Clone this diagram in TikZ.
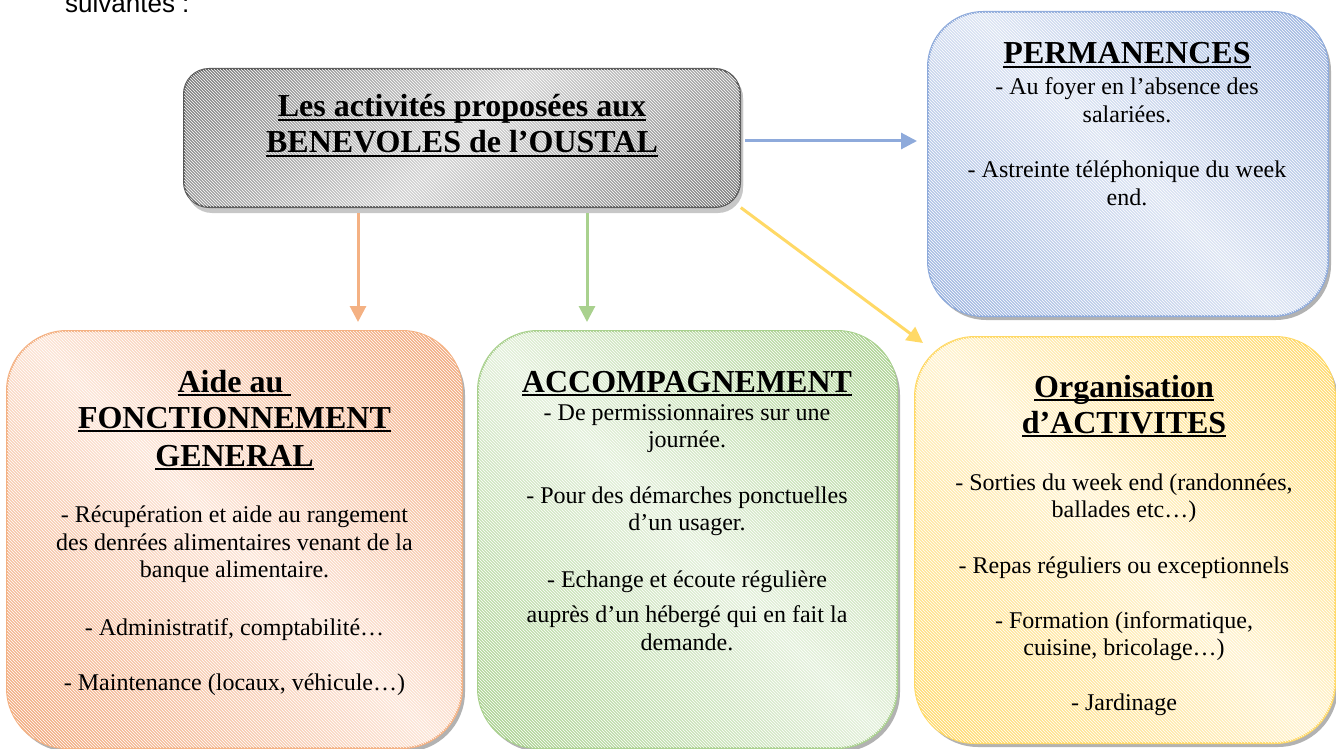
\documentclass[tikz,border=0pt]{standalone}
\usepackage{fontspec}
\setmainfont{Liberation Serif}
\newfontfamily\sansf{Liberation Sans}
\usetikzlibrary{arrows.meta,shadows,patterns}

\newsavebox\ulbox
\newcommand\ulx[1]{\sbox\ulbox{#1}\rlap{\rule[-3.6pt]{\wd\ulbox}{1.6pt}}\usebox\ulbox}

\definecolor{grayD}{HTML}{6A6A6A}
\definecolor{grayL}{HTML}{D2D2D2}
\definecolor{grayB}{HTML}{595959}
\definecolor{blueD}{HTML}{8EAADB}
\definecolor{blueL}{HTML}{DCE4F3}
\definecolor{orD}{HTML}{F2A97C}
\definecolor{orL}{HTML}{FCE5D7}
\definecolor{orB}{HTML}{F4B183}
\definecolor{grD}{HTML}{A9D18E}
\definecolor{grL}{HTML}{E3F0DA}
\definecolor{yeD}{HTML}{FFD966}
\definecolor{yeL}{HTML}{FFF3CF}

\begin{document}
\begin{tikzpicture}[x=1pt,y=-1pt,
  card/.style={rectangle, draw, line width=2pt, inner sep=0pt, outer sep=0pt, fill=white,
    drop shadow={shadow xshift=3pt, shadow yshift=-4pt, opacity=0.3, fill=black}},
  boxshade/.style n args={3}{path picture={
    \shade[left color=#1, right color=#1, middle color=#2, shading angle=#3]
      ([shift={(-300pt,-300pt)}]path picture bounding box.center) rectangle
      ([shift={(300pt,300pt)}]path picture bounding box.center);}},
  hatch/.style={postaction={pattern=north west lines, pattern color=white, fill opacity=0.16}},
  ttl/.style={font=\fontsize{32}{36}\selectfont\bfseries, anchor=base, inner sep=0pt},
  bdy/.style={font=\fontsize{24}{28}\selectfont, anchor=base, inner sep=0pt},
  conn/.style={line width=3pt, -{Triangle[length=16pt,width=16pt]}}
]
\useasboundingbox (0,0) rectangle (1336,749);

% top-left cropped text
\node[font=\sansf\fontsize{26}{30}\selectfont, anchor=base west, inner sep=0pt] (s0) at (65,13) {suivantes :};

% boxes
\node[card, rounded corners=25pt, minimum width=556pt, minimum height=138pt,
  draw=grayB, boxshade={grayD}{grayL}{45},
  drop shadow={shadow xshift=3pt, shadow yshift=-6pt, opacity=1, fill=black!22}, hatch]
  (gray) at (462,138) {};
\node[card, rounded corners=55pt, minimum width=400pt, minimum height=304pt,
  draw=blueD, boxshade={blueD}{blueL}{-45}, hatch]
  (blue) at (1128,164) {};
\node[card, rounded corners=60pt, minimum width=455pt, minimum height=417pt,
  draw=orB, boxshade={orD}{orL}{-45}, hatch]
  (orange) at (234.5,539.5) {};
\node[card, rounded corners=60pt, minimum width=419pt, minimum height=417pt,
  draw=grD, boxshade={grD}{grL}{-45}, hatch]
  (green) at (687.5,539.5) {};
\node[card, rounded corners=60pt, minimum width=420pt, minimum height=406pt,
  draw=yeD, boxshade={yeD}{yeL}{-45}, hatch]
  (yellow) at (1125,540) {};

% connectors
\coordinate (ox) at (358,0);
\coordinate (gx) at (587,0);
\coordinate (by) at (0,141);
\coordinate (ytip) at (923,343);
\draw[conn, draw=orB, fill=orB, shorten <=6pt, shorten >=9pt] (gray.south -| ox) -- (orange.north -| ox);
\draw[conn, draw=grD, fill=grD, shorten <=6pt, shorten >=9pt] (gray.south -| gx) -- (green.north -| gx);
\draw[conn, draw=blueD, fill=blueD, shorten <=5pt, shorten >=11pt] (gray.east |- by) -- (blue.west |- by);
\draw[conn, draw=yeD, fill=yeD, shorten <=1pt] (gray.south east) -- (ytip);

% gray box text
\node[ttl] (g1) at (462,117) {\ulx{Les activités proposées aux}};
\node[ttl] (g2) at (462,153) {\ulx{BENEVOLES de l’OUSTAL}};

% blue box text
\node[ttl] (p1) at (1127,64) {\ulx{PERMANENCES}};
\node[bdy] (p2) at (1127,95) {- Au foyer en l’absence des};
\node[bdy] (p3) at (1127,123) {salariées.};
\node[bdy] (p4) at (1127,177) {- Astreinte téléphonique du week};
\node[bdy] (p5) at (1127,205) {end.};

% orange box text
\node[ttl] (a1) at (234.5,392) {\ulx{Aide au\ }};
\node[ttl] (a2) at (234.5,428) {\ulx{FONCTIONNEMENT}};
\node[ttl] (a3) at (234.5,466) {\ulx{GENERAL}};
\node[bdy] (a4) at (234.5,522) {- Récupération et aide au rangement};
\node[bdy] (a5) at (234.5,550) {des denrées alimentaires venant de la};
\node[bdy] (a6) at (234.5,577) {banque alimentaire.};
\node[bdy] (a7) at (234.5,635) {- Administratif, comptabilité…};
\node[bdy] (a8) at (234.5,690) {- Maintenance (locaux, véhicule…)};

% green box text
\node[ttl] (c1) at (687,392) {\ulx{ACCOMPAGNEMENT}};
\node[bdy] (c2) at (687,420) {- De permissionnaires sur une};
\node[bdy] (c3) at (687,447) {journée.};
\node[bdy] (c4) at (687,503) {- Pour des démarches ponctuelles};
\node[bdy] (c5) at (687,530) {d’un usager.};
\node[bdy] (c6) at (687,587) {- Echange et écoute régulière};
\node[bdy] (c7) at (687,622) {auprès d’un hébergé qui en fait la};
\node[bdy] (c8) at (687,650) {demande.};

% yellow box text
\node[ttl] (o1) at (1124,397) {\ulx{Organisation}};
\node[ttl] (o2) at (1124,433) {\ulx{d’ACTIVITES}};
\node[bdy] (o3) at (1124,490) {- Sorties du week end (randonnées,};
\node[bdy] (o4) at (1124,517) {ballades etc…)};
\node[bdy] (o5) at (1124,573) {- Repas réguliers ou exceptionnels};
\node[bdy] (o6) at (1124,628) {- Formation (informatique,};
\node[bdy] (o7) at (1124,655) {cuisine, bricolage…)};
\node[bdy] (o8) at (1124,710) {- Jardinage};
\end{tikzpicture}
\end{document}
